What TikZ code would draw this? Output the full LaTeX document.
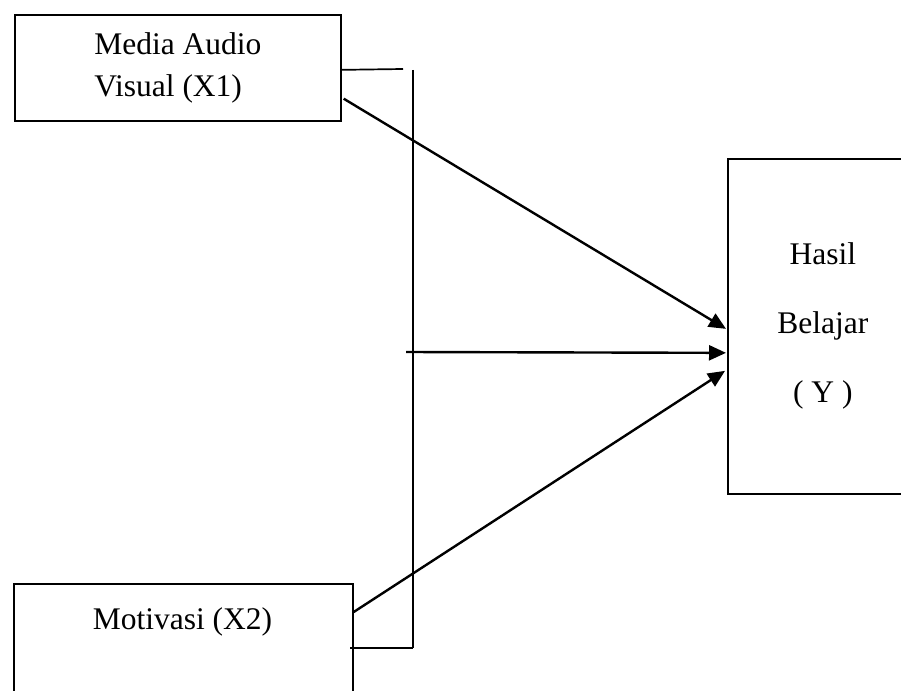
\documentclass[tikz,border=0pt]{standalone}
\usepackage{fontspec}
\setmainfont{Liberation Serif}
\usetikzlibrary{arrows.meta,calc}
\begin{document}
\begin{tikzpicture}[x=1pt,y=-1pt,
  box/.style={draw, line width=1.7pt, inner sep=0pt, anchor=north west},
  conn/.style={line width=2.4pt, -{Triangle[length=17pt,width=15pt]}},
  brk/.style={line width=1.7pt}]
\clip (0,0) rectangle (901,690);
\fill[white] (0,0) rectangle (901,690);
\fontsize{31.5}{42}\selectfont
\node[box, minimum width=326pt, minimum height=106pt, align=left] (x1) at (14,14) {Media Audio\\Visual (X1)};
\node[box, minimum width=190pt, minimum height=335pt, align=center, font=\fontsize{31.5}{69}\selectfont] (y) at (727,158) {Hasil\\Belajar\\( Y )};
\node[box, minimum width=339pt, minimum height=140pt] (x2) at (13,583) {};
\node (x2t) at (182.5,622) {Motivasi (X2)};
% bracket
\coordinate (bt1) at ($(x1.east)+(0,2)$);
\coordinate (bt2) at (403,69);
\coordinate (bv1) at (413,70);
\coordinate (bv2) at (413,648);
\coordinate (bb1) at (350,648);
\draw[brk] (bt1) -- (bt2);
\draw[brk] (bv1) -- (bv2);
\draw[brk] (bb1) -- (bv2);
% arrows
\coordinate (a1s) at ($(x1.south east)+(2,-23)$);
\coordinate (a2s) at (406,352);
\coordinate (a3s) at ($(x2.north east)+(0,29)$);
\draw[conn] (a1s) -- ($(y.west)+(-1,2.5)$);
\draw[conn] (a2s) -- ($(y.west)+(-1,26.5)$);
\draw[conn] (a3s) -- ($(y.west)+(-2,44.5)$);
\end{tikzpicture}
\end{document}
